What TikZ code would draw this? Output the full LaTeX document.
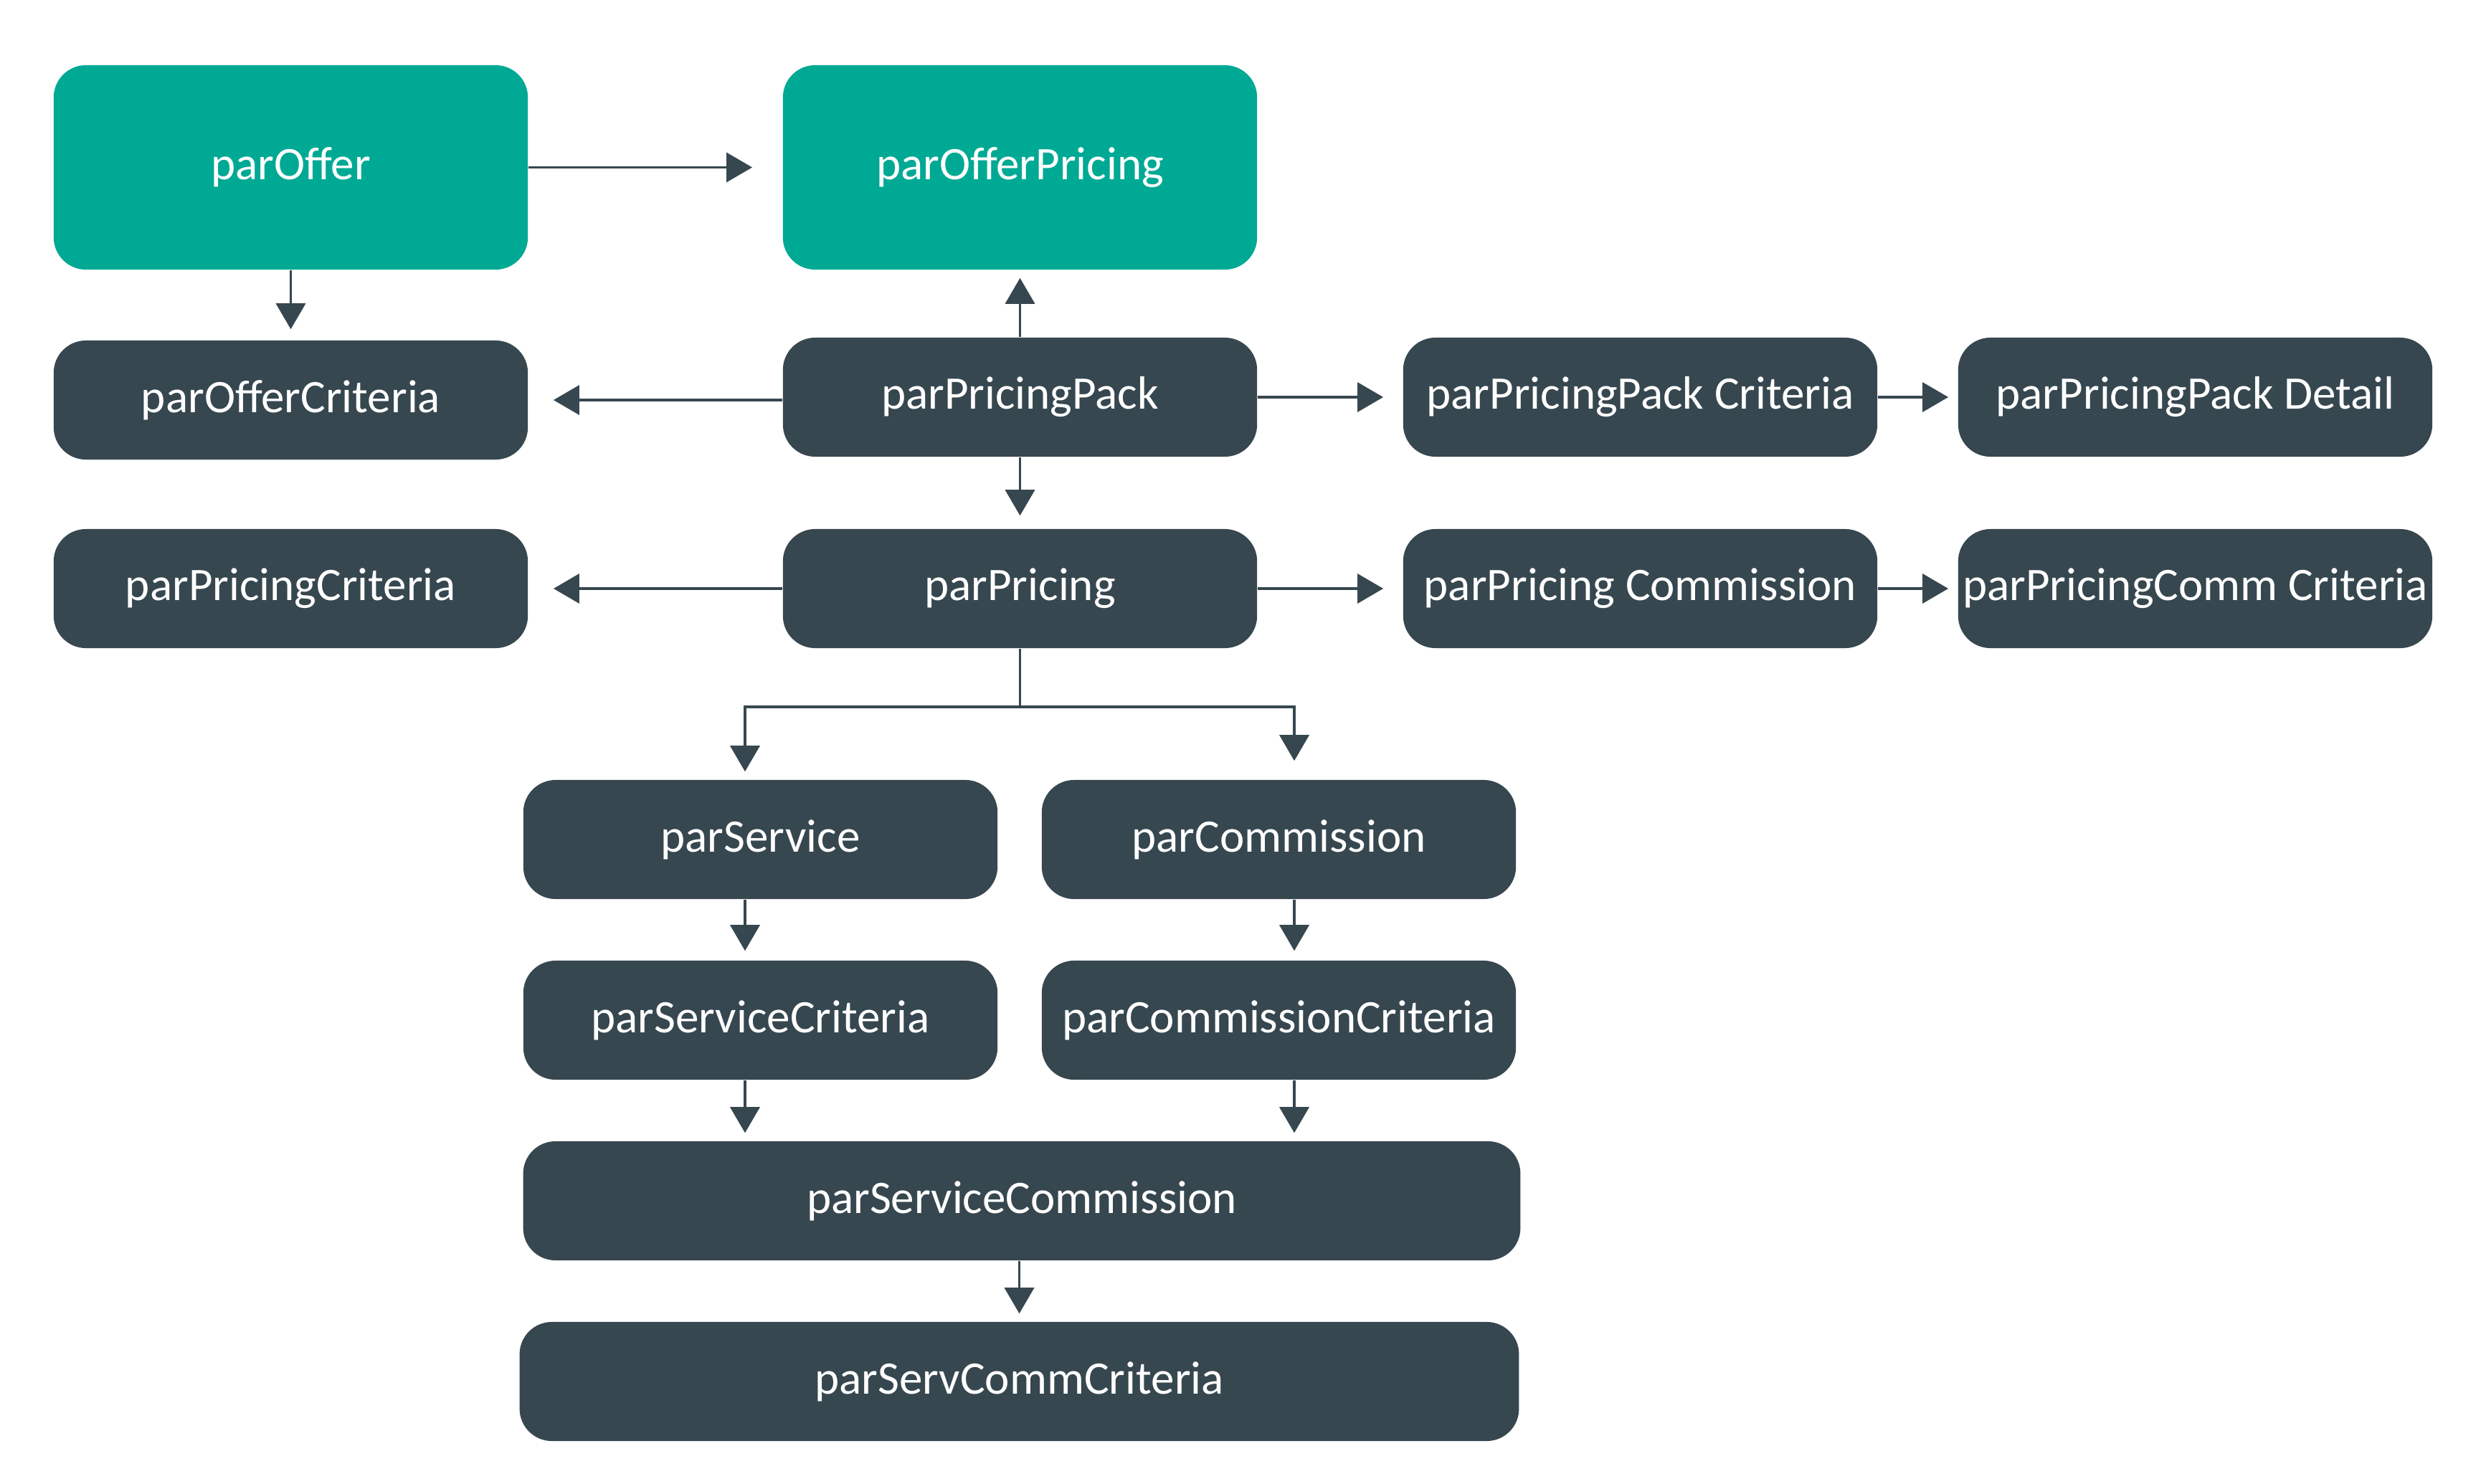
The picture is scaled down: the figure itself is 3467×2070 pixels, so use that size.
\documentclass[tikz,border=0pt]{standalone}
\usepackage{fontspec}
\setmainfont{Carlito}
\usetikzlibrary{arrows.meta}
\definecolor{tealbox}{HTML}{00A994}
\definecolor{darkbox}{HTML}{37474F}
\begin{document}
\begin{tikzpicture}[x=0.01cm,y=-0.01cm,
  box/.style={fill=darkbox,draw=none,rounded corners=0.45cm,text=white,
    minimum width=6.61cm,minimum height=1.66cm,inner sep=0pt,
    font=\fontsize{18.5}{22}\selectfont},
  bigbox/.style={box,fill=tealbox,minimum height=2.85cm},
  conn/.style={draw=darkbox,line width=1.05pt,
    -{Triangle[length=0.36cm,width=0.41cm]}}]
\useasboundingbox (0,0) rectangle (3467,2070);
\node[bigbox] (offer) at (405.5,233.5) {parOffer};
\node[bigbox] (opricing) at (1422.5,233.5) {parOfferPricing};
\node[box] (ocrit) at (405.5,558) {parOfferCriteria};
\node[box] (ppack) at (1422.5,554) {parPricingPack};
\node[box] (ppcrit) at (2287.5,554) {parPricingPack Criteria};
\node[box] (ppdet) at (3061.5,554) {parPricingPack Detail};
\node[box] (pcrit) at (405.5,821) {parPricingCriteria};
\node[box] (pricing) at (1422.5,821) {parPricing};
\node[box] (pcomm) at (2287.5,821) {parPricing Commission};
\node[box] (pccrit) at (3061.5,821) {parPricingComm Criteria};
\node[box] (serv) at (1060.5,1171) {parService};
\node[box] (comm) at (1783.5,1171) {parCommission};
\node[box] (scrit) at (1060.5,1423) {parServiceCriteria};
\node[box] (ccrit) at (1783.5,1423) {parCommissionCriteria};
\node[box,minimum width=13.90cm] (servcomm) at (1425,1675) {parServiceCommission};
\node[box,minimum width=13.93cm] (sccrit) at (1421.5,1927) {parServCommCriteria};
\coordinate (split) at (1422.5,986);
% arrows
\draw[conn,shorten >=0.42cm] (offer.east |- opricing) -- (opricing.west);
\draw[conn,shorten >=0.15cm] (offer) -- (ocrit);
\draw[conn,shorten >=0.11cm] (ppack) -- (opricing);
\draw[conn,shorten >=0.35cm] (ppack.west |- ocrit) -- (ocrit.east);
\draw[conn,shorten >=0.27cm] (ppack.east |- ppcrit) -- (ppcrit.west);
\draw[conn,shorten >=0.13cm] (ppcrit) -- (ppdet);
\draw[conn,shorten >=0.18cm] (ppack) -- (pricing);
\draw[conn,shorten >=0.35cm] (pricing) -- (pcrit);
\draw[conn,shorten >=0.27cm] (pricing) -- (pcomm);
\draw[conn,shorten >=0.13cm] (pcomm) -- (pccrit);
\draw[draw=darkbox,line width=1.05pt] (pricing.south) -- (split);
\draw[conn,shorten >=0.11cm] (split) -| ([xshift=-0.215cm]serv.north);
\draw[conn,shorten >=0.26cm] (split) -| ([xshift=0.215cm]comm.north);
\draw[conn,shorten >=0.13cm] ([xshift=-0.215cm]serv.south) -- ([xshift=-0.215cm]scrit.north);
\draw[conn,shorten >=0.13cm] ([xshift=0.215cm]comm.south) -- ([xshift=0.215cm]ccrit.north);
\draw[conn,shorten >=0.11cm] ([xshift=-0.215cm]scrit.south) -- ([xshift=-0.215cm]scrit.south |- servcomm.north);
\draw[conn,shorten >=0.11cm] ([xshift=0.215cm]ccrit.south) -- ([xshift=0.215cm]ccrit.south |- servcomm.north);
\draw[conn,shorten >=0.11cm] (servcomm.south -| sccrit) -- (sccrit.north);
\end{tikzpicture}
\end{document}
